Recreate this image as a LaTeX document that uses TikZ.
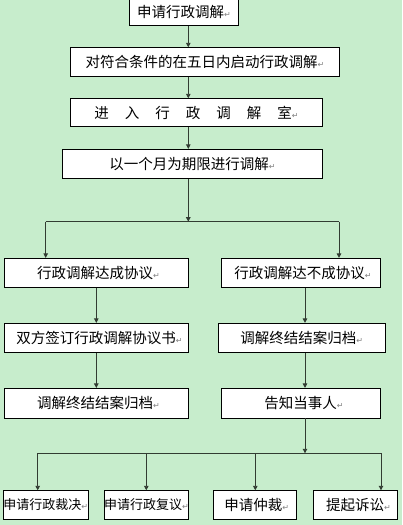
\documentclass[tikz,border=0pt]{standalone}
\usepackage{fontspec}
\setmainfont{Noto Sans CJK SC}
\newfontfamily\dvfont{DejaVu Sans}
\usetikzlibrary{arrows.meta}
\definecolor{bggreen}{RGB}{199,237,204}
\definecolor{lncol}{RGB}{50,60,50}
\newcommand\retmark{{\dvfont\fontsize{8}{8}\selectfont\textcolor{gray}{↵}}}
\newcommand\gapsp{\hspace{16pt}}
\tikzset{
  box/.style={draw=black, fill=white, line width=0.8pt, inner sep=0pt, anchor=center, font=\fontsize{14.5}{16}\selectfont},
  smallbox/.style={box, font=\fontsize{13}{15}\selectfont},
  ln/.style={draw=lncol, line width=0.9pt},
  arr/.style={ln, -{Triangle[width=4.5pt,length=4.5pt]}}
}
\begin{document}
\begin{tikzpicture}[x=1pt,y=-1pt]
\fill[bggreen] (0,0) rectangle (402,525);
\useasboundingbox (0,0) rectangle (402,525);
% column coordinates
\coordinate (cx) at (188.3,0);
\coordinate (lx1) at (45.7,0);
\coordinate (rx1) at (339,0);
\coordinate (lx2) at (96.3,0);
\coordinate (rx2) at (305,0);
% boxes
\node[box, minimum width=109.4pt, minimum height=26.3pt] (b1) at (184,12.2) {申请行政调解\retmark};
\node[box, minimum width=269.4pt, minimum height=28.6pt] (b2) at (205,62) {对符合条件的在五日内启动行政调解\retmark};
\node[box, minimum width=252.4pt, minimum height=28pt] (b3) at (196.5,112.7) {进\gapsp 入\gapsp 行\gapsp 政\gapsp 调\gapsp 解\gapsp 室\retmark};
\node[box, minimum width=260.4pt, minimum height=29.4pt] (b4) at (192.5,164) {以一个月为期限进行调解\retmark};
\node[box, minimum width=184.4pt, minimum height=29pt] (l5) at (96.5,272.8) {\hspace{4pt}行政调解达成协议\retmark};
\node[box, minimum width=158.6pt, minimum height=29pt] (r5) at (301,272.8) {\hspace{4pt}行政调解达不成协议\retmark};
\node[box, minimum width=184.4pt, minimum height=29.4pt] (l6) at (96.5,338) {\hspace{6pt}双方签订行政调解协议书\retmark};
\node[box, minimum width=167pt, minimum height=29pt] (r6) at (301.8,337.8) {调解终结结案归档\retmark};
\node[box, minimum width=184.4pt, minimum height=29.7pt] (l7) at (96.5,403.2) {\hspace{4pt}调解终结结案归档\retmark};
\node[box, minimum width=158.6pt, minimum height=29.7pt] (r7) at (301,403.2) {\hspace{6pt}告知当事人\retmark};
\node[smallbox, minimum width=83.7pt, minimum height=28.6pt] (c1) at (45.8,505) {申请行政裁决\retmark};
\node[smallbox, minimum width=84.4pt, minimum height=28.6pt] (c2) at (146.5,505) {申请行政复议\retmark};
\node[box, minimum width=83pt, minimum height=28.6pt] (c3) at (254.8,505) {\hspace{4pt}申请仲裁\retmark};
\node[box, minimum width=84.4pt, minimum height=28.6pt] (c4) at (355.5,505) {\hspace{6pt}提起诉讼\retmark};
% junctions
\coordinate (j1) at (188.3,221.7);
\coordinate (j1l) at (45.7,221.7);
\coordinate (j1r) at (339,221.7);
\coordinate (j2) at (305,453.3);
\coordinate (j2a) at (37.7,453.3);
\coordinate (j2b) at (146.3,453.3);
\coordinate (j2c) at (255.3,453.3);
\coordinate (j2d) at (381,453.3);
% connectors
\draw[arr] (b1.south -| cx) -- (b2.north -| cx);
\draw[arr] (b2.south -| cx) -- (b3.north -| cx);
\draw[arr] (b3.south -| cx) -- (b4.north -| cx);
\draw[arr] (b4.south -| cx) -- (j1);
\draw[ln] (j1l) -- (j1r);
\draw[arr] (j1l) -- (l5.north -| j1l);
\draw[arr] (j1r) -- (r5.north -| j1r);
\draw[arr] (l5.south -| lx2) -- (l6.north -| lx2);
\draw[arr] (l6.south -| lx2) -- (l7.north -| lx2);
\draw[arr] (r5.south -| rx2) -- (r6.north -| rx2);
\draw[arr] (r6.south -| rx2) -- (r7.north -| rx2);
\draw[arr] (r7.south -| rx2) -- (j2);
\draw[ln] (j2a) -- (j2d);
\draw[arr] (j2a) -- (c1.north -| j2a);
\draw[arr] (j2b) -- (c2.north -| j2b);
\draw[arr] (j2c) -- (c3.north -| j2c);
\draw[arr] (j2d) -- (c4.north -| j2d);
\end{tikzpicture}
\end{document}
